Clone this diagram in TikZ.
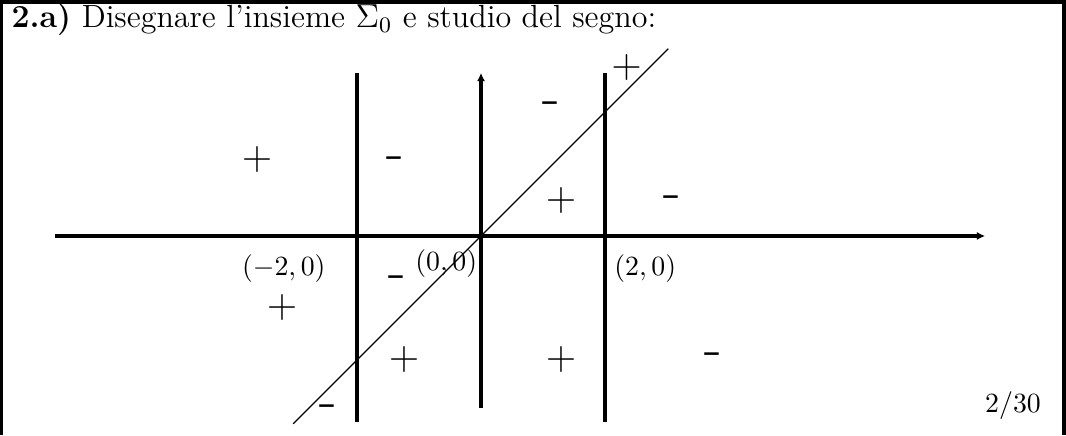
\documentclass[tikz,border=0pt]{standalone}
\usepackage{amssymb}
\usetikzlibrary{arrows.meta}

\begin{document}
\begin{tikzpicture}[
        x=22.32pt, y=22.32pt,
        asse/.style={draw=black, line width=1.4pt},
        bordo/.style={draw=black, line width=1.2pt},
        retta/.style={draw=black, line width=0.4pt},
        piu/.style={font=\Large, inner sep=0pt},
        meno/.style={font=\huge, inner sep=0pt},
        punto/.style={font=\normalsize, inner sep=0pt}
    ]
        \useasboundingbox (-7.758,-3.210) rectangle (9.435,3.806);
        % cornice della slide
        \draw[bordo] (-7.731,-3.210) -- (-7.731,3.774) -- (9.403,3.774) -- (9.403,-3.210);
        \node[anchor=base west, inner sep=0pt, font=\fontsize{11.55}{14}\selectfont] (titolo) at (-7.58,3.36) {\textbf{2.a)}\ Disegnare l'insieme $\Sigma_0$ e studio del segno:};

        % assi e rette
        \coordinate (O) at (0,0);
        \draw[asse, -{Latex[length=3pt, width=3pt]}] (-6.87,0) -- (8.13,0);
        \draw[asse, -{Latex[length=3pt, width=3pt]}] (0,-2.77) -- (0,2.63);
        \draw[asse] (-2,-3.0) -- (-2,2.63);
        \draw[asse] (2,-3.0) -- (2,2.63);
        \draw[retta] (-3.03,-3.03) -- (3.02,3.02);

        % punti
        \node[punto] (pA) at (-3.18,-0.53) {$(-2,0)$};
        \node[punto] (pO) at (-0.56,-0.44) {$(0,0)$};
        \node[punto] (pB) at (2.65,-0.53) {$(2,0)$};

        % segni
        \node[piu] (s1) at (-3.61,1.23) {$+$};
        \node[meno] (s2) at (-1.39,1.16) {-};
        \node[meno] (s3) at (1.13,2.05) {-};
        \node[piu] (s4) at (2.35,2.71) {$+$};
        \node[piu] (s5) at (1.29,0.58) {$+$};
        \node[meno] (s6) at (3.08,0.53) {-};
        \node[meno] (s7) at (-1.35,-0.76) {-};
        \node[piu] (s8) at (-3.21,-1.15) {$+$};
        \node[piu] (s9) at (-1.24,-2.0) {$+$};
        \node[piu] (s10) at (1.29,-2.0) {$+$};
        \node[meno] (s11) at (-2.47,-2.83) {-};
        \node[meno] (s12) at (3.74,-1.99) {-};

        \node[punto] (pagina) at (8.58,-2.73) {$2/30$};
    \end{tikzpicture}
\end{document}
